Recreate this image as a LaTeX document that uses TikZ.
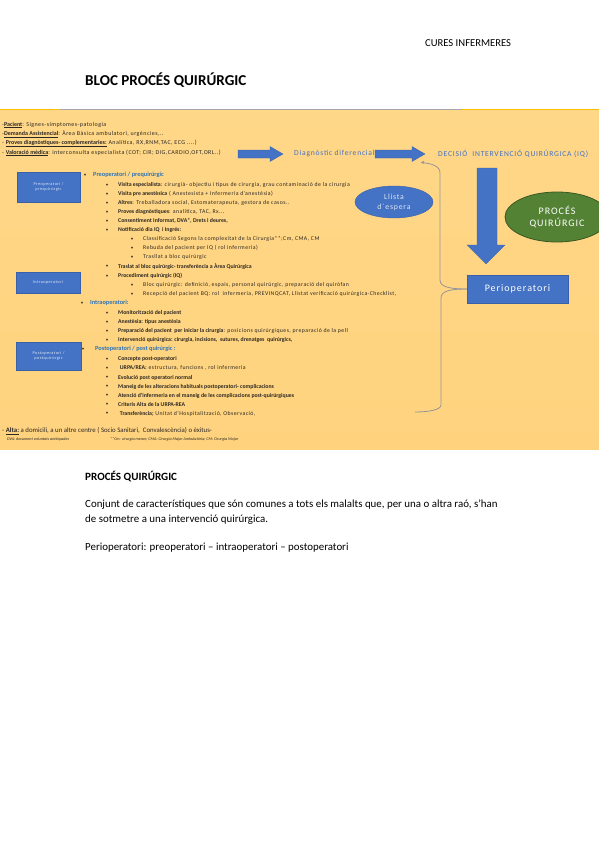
\documentclass[tikz,border=0pt]{standalone}
\usepackage{fontspec}
\setmainfont{Carlito}
\newfontfamily\wreg[LetterSpace=10]{Carlito}
\newfontfamily\wregs[LetterSpace=7.5]{Carlito}
\usetikzlibrary{shapes.geometric,arrows.meta}
\definecolor{slidebg}{RGB}{255,215,136}
\definecolor{slidebg2}{RGB}{255,211,126}
\definecolor{boxblue}{RGB}{68,114,196}
\definecolor{txtblue}{RGB}{46,117,182}
\definecolor{grn}{RGB}{84,130,53}
\definecolor{grnd}{RGB}{56,87,35}
\definecolor{braceg}{RGB}{150,150,150}
\definecolor{topyel}{RGB}{255,192,0}
\definecolor{lighttxt}{RGB}{222,232,246}
\definecolor{dtxt}{RGB}{45,40,35}
\newcommand{\myul}[1]{\underline{#1}}
\newcommand{\B}[1]{{\normalfont\bfseries #1}}
\newcommand{\mbul}[3]{\node[bul] (b#1) at (107,#2) {\textbullet}; \node[li] (t#1) at (118,#2) {#3};}
\newcommand{\sbul}[3]{\node[bul] (b#1) at (132,#2) {\textbullet}; \node[li] (t#1) at (143,#2) {#3};}
\begin{document}
\begin{tikzpicture}[x=1pt,y=-1pt,
  li/.style={anchor=west,inner sep=0,font=\wregs\fontsize{5.8}{6}\selectfont,text=dtxt},
  bul/.style={anchor=center,inner sep=0,font=\fontsize{5}{6}\selectfont,text=dtxt},
  hdr/.style={anchor=west,inner sep=0,font=\fontsize{6.3}{6}\selectfont\bfseries,text=txtblue},
  sidebox/.style={fill=boxblue,draw=boxblue!85!black,line width=0.4pt,inner sep=0,text=lighttxt,font=\wreg\fontsize{4.3}{5}\selectfont,align=center},
  bigarrow/.style={fill=boxblue,draw=boxblue!85!black,line width=0.3pt},
  pagetxt/.style={anchor=west,inner sep=0,text=black}]
\useasboundingbox (0,0) rectangle (599,848);
\fill[white] (0,0) rectangle (599,848);
% header
\node[pagetxt,font=\fontsize{10.6}{12}\selectfont] (cures) at (425,43) {CURES INFERMERES};
\node[pagetxt,font=\fontsize{15.1}{16}\selectfont\bfseries] (title) at (85,80) {BLOC PROCÉS QUIRÚRGIC};
% slide
\shade[top color=slidebg,bottom color=slidebg2] (0,110) rectangle (599,449);
\draw[topyel,line width=1pt] (0,110) -- (60,110);
\draw[gray!70,line width=1pt] (60,110) -- (462,110);
\draw[topyel,line width=1pt] (462,110) -- (599,110);
% top lines
\begin{scope}[every node/.style={anchor=west,inner sep=0,font=\wregs\fontsize{6}{6}\selectfont,text=dtxt}]
\node (l1) at (2,125) {-\myul{\B{Pacient}}: Signes-símptomes-patologia};
\node (l2) at (2,134) {-\myul{\B{Demanda Assistencial}}: Àrea Bàsica ambulatori, urgències,..};
\node (l3) at (2,143.5) {- \myul{\B{Proves diagnòstiques- complementaries:}} Analítica, RX,RNM,TAC, ECG ....)};
\node (l4) at (2,153) {- \myul{\B{Valoració mèdica}}: interconsulta especialista (COT; CIR; DIG,CARDIO,OFT,ORL..)};
\end{scope}
\node[anchor=west,inner sep=0,font=\wreg\fontsize{7.6}{8}\selectfont,text=boxblue] (diag) at (294,154) {Diagnòstic diferencial};
\node[anchor=west,inner sep=0,font=\wreg\fontsize{7.6}{8}\selectfont,text=boxblue] (dec) at (438,154) {DECISIÓ\ \ INTERVENCIÓ QUIRÚRGICA (IQ)};
% horizontal arrows
\draw[bigarrow] (238,150) -- (270,150) -- (270,146.5) -- (283,154) -- (270,161.5) -- (270,158) -- (238,158) -- cycle;
\draw[bigarrow] (375,150) -- (412,150) -- (412,146.5) -- (425,154) -- (412,161.5) -- (412,158) -- (375,158) -- cycle;
% big down arrow
\draw[bigarrow] (477,168) -- (497,168) -- (497,245) -- (505,245) -- (486,264) -- (467,245) -- (477,245) -- cycle;
% ellipses
\node[ellipse,fill=boxblue,draw=boxblue!85!black,line width=0.4pt,minimum width=78pt,minimum height=32pt,inner sep=0,text=lighttxt,font=\wreg\fontsize{7.8}{10}\selectfont,align=center] (llista) at (394,202) {Llista\\d´espera};
\node[ellipse,fill=grn,draw=grnd,line width=0.8pt,minimum width=104pt,minimum height=50pt,inner sep=0,text=white,font=\wreg\fontsize{10}{12.5}\selectfont,align=center] (proc) at (557,217) {PROCÉS\\QUIRÚRGIC};
% perioperatori
\node[fill=boxblue,draw=boxblue!85!black,line width=0.4pt,minimum width=101pt,minimum height=28pt,inner sep=0,text=white,font=\wreg\fontsize{10}{12}\selectfont] (peri) at (517.5,289) {Perioperatori};
% brace connector
\coordinate (bt) at (421,162.5);
\coordinate (bb) at (415,412);
\draw[braceg,line width=0.8pt] (peri.west) .. controls (450,289) and (440,287) .. (440,280) -- (440,173) .. controls (440,166) and (432,163.5) .. (bt);
\draw[braceg,line width=0.8pt] (peri.west) .. controls (450,289) and (441,291) .. (441,298) -- (441,405) .. controls (441,410) and (428,412) .. (bb);
\fill[braceg] (bt) -- ++(3,-1.8) -- ++(-0.5,3.2) -- cycle;
% side boxes
\node[sidebox,minimum width=63pt,minimum height=30pt] (sb1) at (48.5,187) {Preoperatori /\\prequirúrgic};
\node[sidebox,minimum width=64pt,minimum height=21pt] (sb2) at (48,282.5) {Intraoperatori};
\node[sidebox,minimum width=65pt,minimum height=28pt] (sb3) at (48.5,356) {Postoperatori /\\postquirúrgic};
% preop
\node[bul] (h1b) at (85,175) {\textbullet};
\node[hdr] (h1) at (93,175) {Preoperatori / prequirúrgic};
\mbul{1}{185}{\B{Visita especialista}: cirurgià- objectiu i tipus de cirurgia, grau contaminació de la cirurgia}
\mbul{2}{194}{\B{Visita pre anestèsica} ( Anestesista + Infermeria d’anestèsia)}
\mbul{3}{203}{\B{Altres}: Treballadora social, Estomaterapeuta, gestora de casos..}
\mbul{4}{212}{\B{Proves diagnòstiques}: analítica, TAC, Rx...}
\mbul{5}{221}{\B{Consentiment Informat, DVA*, Drets i deures,}}
\mbul{6}{230}{\B{Notificació dia IQ\ \ i Ingrés:}}
\sbul{7}{239}{Classificació Segons la complexitat de la Cirurgia**;Cm, CMA, CM}
\sbul{8}{248}{Rebuda del pacient per IQ ( rol infermeria)}
\sbul{9}{257}{Trasllat a bloc quirúrgic}
\mbul{10}{266.5}{\B{Traslat al bloc quirúrgic- transferència a Àrea Quirúrgica}}
\mbul{11}{276}{\B{Procediment quirúrgic (IQ)}}
\sbul{12}{285}{Bloc quirúrgic: definició, espais, personal quirúrgic, preparació del quiròfan}
\sbul{13}{294}{Recepció del pacient BQ: rol\ \ infermeria, PREVINQCAT, Llistat verificació quirúrgica-Checklist,}
% intra
\node[bul] (h2b) at (82,303) {\textbullet};
\node[hdr] (h2) at (90,303) {Intraoperatori:};
\mbul{14}{313}{\B{Monitorització del pacient}}
\mbul{15}{322}{\B{Anestèsia: tipus anestèsia}}
\mbul{16}{331}{\B{Preparació del pacient\ \ per iniciar la cirurgia}: posicions quirúrgiques, preparació de la pell}
\mbul{17}{340}{\B{Intervenció quirúrgica: cirurgia, incisions,\ \ sutures, drenatges\ \ quirúrgics,}}
% post
\node[bul] (h3b) at (83,349) {\textbullet};
\node[hdr] (h3) at (95,349) {Postoperatori / post quirúrgic :};
\mbul{18}{359}{\B{Concepte post-operatori}}
\mbul{19}{368}{\ \B{URPA/REA:} estructura, funcions , rol infermeria}
\mbul{20}{377.5}{\B{Evolució post operatori normal}}
\mbul{21}{386.5}{\B{Maneig de les alteracions habituals postoperatori- complicacions}}
\mbul{22}{395.5}{\B{Atenció d’infermeria en el maneig de les complicacions post-quirúrgiques}}
\mbul{23}{404.5}{\B{Criteris Alta de la URPA-REA}}
\mbul{24}{413.5}{\ \B{Transferència;} Unitat d’Hospitalització, Observació,}
% alta
\node[anchor=west,inner sep=0,font=\fontsize{6.8}{7}\selectfont,text=dtxt] (alta) at (2,431) {- \myul{\textbf{Alta:}} a domicili, a un altre centre ( Socio Sanitari,\ \ Convalescència) o èxitus-};
\node[anchor=west,inner sep=0,font=\fontsize{4.1}{4}\selectfont\itshape,text=dtxt] (fn1) at (7,439) {DVA: document voluntats anticipades};
\node[anchor=west,inner sep=0,font=\fontsize{4.1}{4}\selectfont\itshape,text=dtxt] (fn2) at (110,439) {**Cm: cirurgia menor; CMA: Cirurgia Major Ambulatòria; CM: Cirurgia Major};
% page text below
\node[pagetxt,font=\fontsize{11.1}{13}\selectfont\bfseries] (pq) at (85,477) {PROCÉS QUIRÚRGIC};
\node[pagetxt,font=\fontsize{10.9}{13}\selectfont] (c1) at (85,505) {Conjunt de característiques que són comunes a tots els malalts que, per una o altra raó, s’han};
\node[pagetxt,font=\fontsize{10.9}{13}\selectfont] (c2) at (85,519.5) {de sotmetre a una intervenció quirúrgica.};
\node[pagetxt,font=\fontsize{10.9}{13}\selectfont] (c3) at (85,547.5) {Perioperatori: preoperatori – intraoperatori – postoperatori};
\end{tikzpicture}
\end{document}
